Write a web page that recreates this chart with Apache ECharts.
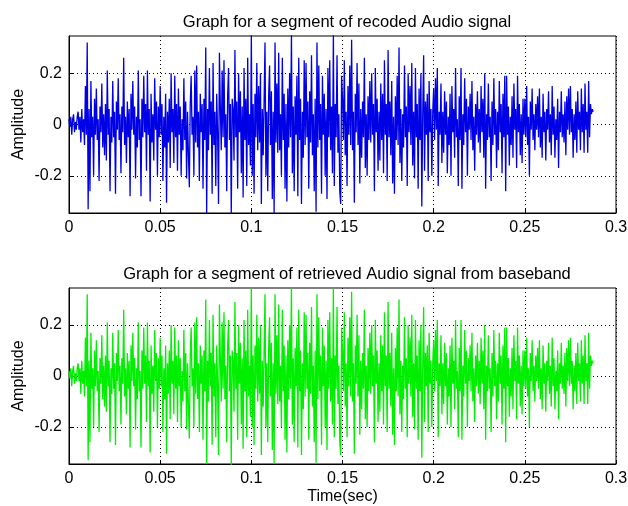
<!DOCTYPE html>
<html>
<head>
<meta charset="utf-8">
<title>Audio signal segment</title>
<script src="https://cdn.jsdelivr.net/npm/echarts@6/dist/echarts.min.js"></script>
<style>
  html, body { margin: 0; padding: 0; background: #fff; }
  #chart { width: 628px; height: 506px; }
</style>
</head>
<body>
<div id="chart"></div>
<script>
// sample spacing of the segment (sec)
const sampleStep = 0.0005;

// recoded audio signal (one row = 5 ms)
const recordedSignal = [
  0.02, -0.01, 0.03, -0.04, 0.02, 0.04, -0.03, 0.01, -0.02, 0.03,
  0.05, -0.02, 0.03, -0.07, 0.06, -0.03, 0.02, -0.08, 0.15, -0.04,
  0.32, -0.33, 0.06, -0.26, 0.17, -0.05, 0.03, -0.2, 0.1, -0.04,
  0.14, -0.06, 0.02, -0.22, 0.07, -0.03, 0.16, -0.09, 0.04, -0.12,
  0.08, -0.14, 0.21, -0.04, 0.06, -0.26, 0.03, -0.07, 0.17, -0.05,
  0.05, -0.27, 0.09, -0.02, 0.18, -0.06, 0.04, -0.19, 0.07, -0.03,
  0.26, -0.08, 0.03, -0.15, 0.09, -0.05, 0.06, -0.28, 0.12, -0.02,
  0.17, -0.04, 0.07, -0.21, 0.03, -0.09, 0.21, -0.06, 0.02, -0.28,
  0.1, -0.05, 0.19, -0.03, 0.08, -0.18, 0.21, -0.04, 0.06, -0.3,
  0.12, -0.07, 0.04, -0.14, 0.18, -0.02, 0.09, -0.2, 0.07, -0.05,
  0.15, -0.04, 0.08, -0.22, 0.03, -0.09, 0.12, -0.305, 0.05, -0.07,
  0.1, -0.17, 0.2, -0.03, 0.06, -0.15, 0.19, -0.05, 0.08, -0.18,
  0.14, -0.04, 0.07, -0.2, 0.02, -0.1, 0.18, -0.06, 0.09, -0.21,
  0.05, -0.12, -0.245, 0.08, 0.19, -0.04, 0.03, -0.2, 0.21, -0.07,
  0.23, -0.09, 0.05, -0.22, 0.12, -0.03, 0.08, -0.25, 0.1, -0.06,
  0.3, -0.345, 0.06, -0.1, 0.22, -0.04, 0.09, -0.27, 0.24, -0.08,
  0.05, -0.24, 0.12, -0.03, -0.31, 0.28, 0.07, -0.1, 0.21, -0.05,
  0.25, -0.09, 0.04, -0.26, 0.11, 0.22, -0.06, 0.08, -0.35, 0.1,
  0.06, -0.14, 0.29, -0.05, 0.09, -0.25, 0.2, -0.03, 0.13, -0.19,
  0.07, -0.285, 0.22, -0.06, 0.1, -0.24, 0.26, -0.08, 0.04, -0.16,
  0.355, -0.2, 0.08, -0.27, 0.12, -0.05, 0.24, -0.1, 0.15, -0.07,
  0.2, -0.31, 0.06, -0.12, 0.09, 0.32, -0.2, 0.05, -0.26, 0.11,
  0.23, -0.08, 0.13, -0.29, 0.05, -0.345, 0.32, -0.07, 0.16, -0.11,
  0.28, -0.1, 0.04, -0.2, 0.26, -0.06, 0.12, -0.25, 0.08, -0.3,
  0.14, -0.09, 0.2, -0.05, 0.355, -0.19, 0.07, -0.26, 0.11, -0.04,
  0.19, -0.28, 0.26, -0.06, 0.1, -0.31, 0.05, -0.13, 0.25, -0.08,
  0.24, -0.05, 0.09, -0.25, 0.13, -0.07, 0.27, -0.12, 0.04, -0.26,
  0.1, -0.34, 0.32, -0.09, 0.23, -0.06, 0.08, -0.27, 0.19, -0.04,
  0.12, -0.2, 0.06, -0.29, 0.22, -0.05, 0.25, -0.1, 0.07, -0.19,
  0.355, -0.24, 0.08, -0.05, 0.27, -0.11, 0.04, -0.26, -0.31, 0.19,
  0.1, -0.06, 0.25, -0.12, 0.05, -0.24, 0.15, -0.04, 0.23, -0.08,
  0.33, -0.1, 0.05, -0.305, 0.12, -0.03, 0.24, -0.08, 0.16, -0.23,
  0.06, -0.13, 0.09, -0.05, 0.26, -0.17, 0.04, -0.2, 0.11, -0.06,
  0.17, -0.07, 0.2, -0.04, 0.08, -0.26, 0.22, -0.03, 0.1, -0.18,
  0.05, -0.14, 0.16, -0.06, 0.12, -0.19, 0.25, -0.04, 0.08, -0.22,
  0.29, -0.05, 0.09, -0.12, 0.17, -0.23, 0.03, -0.27, 0.11, -0.06,
  0.19, -0.08, 0.3, -0.15, 0.06, -0.22, 0.04, -0.09, 0.23, -0.05,
  0.07, -0.24, 0.2, -0.03, 0.15, -0.08, 0.24, -0.16, 0.05, -0.21,
  0.22, -0.05, 0.08, -0.25, 0.14, -0.06, 0.2, -0.32, 0.04, 0.27,
  -0.18, 0.09, -0.04, 0.12, -0.22, 0.17, -0.03, 0.06, -0.2, 0.05,
  0.14, -0.06, 0.18, -0.02, 0.22, -0.24, 0.05, -0.04, 0.16, -0.15,
  0.05, -0.11, 0.13, -0.04, 0.09, -0.19, 0.03, -0.08, 0.12, -0.2,
  0.15, -0.03, 0.06, -0.13, 0.22, -0.05, 0.02, -0.24, 0.11, -0.06,
  0.22, -0.25, 0.04, -0.08, 0.18, -0.03, 0.1, -0.2, 0.07, -0.02,
  0.12, -0.06, 0.17, -0.1, 0.03, -0.18, 0.08, -0.04, 0.13, -0.07,
  0.06, -0.11, 0.15, -0.03, 0.1, -0.13, 0.2, -0.25, 0.04, -0.06,
  0.16, -0.05, 0.03, -0.22, 0.09, -0.08, 0.18, -0.04, 0.06, -0.17,
  0.05, -0.1, 0.17, -0.03, 0.08, -0.19, 0.12, -0.05, 0.19, -0.26,
  0.19, -0.04, 0.07, -0.16, 0.03, -0.08, 0.11, -0.13, 0.16, -0.02,
  0.06, -0.17, 0.19, -0.03, 0.08, -0.12, 0.04, -0.15, 0.1, -0.04,
  0.1, -0.05, 0.15, -0.08, 0.03, -0.2, 0.09, -0.02, 0.14, -0.06,
  0.04, -0.1, 0.08, -0.02, 0.11, -0.05, 0.14, -0.09, 0.03, -0.13,
  0.12, -0.03, 0.05, -0.14, 0.06, -0.02, 0.13, -0.07, 0.04, -0.12,
  0.15, -0.04, 0.07, -0.13, 0.02, -0.06, 0.1, -0.17, 0.05, -0.03,
  0.13, -0.05, 0.04, -0.07, 0.09, -0.12, 0.11, -0.02, 0.14, -0.04,
  0.15, -0.03, 0.06, -0.13, 0.04, -0.06, 0.09, -0.11, 0.13, -0.02,
  0.05, -0.1, 0.14, -0.03, 0.08, -0.11, 0.16, -0.02, 0.05, -0.11,
  0.17, -0.05, 0.08, 0.04, 0.06, 0.05
];

// retrieved signal from baseband (lower plot) follows the recoded one
const retrievedSignal = recordedSignal.slice();

const amplitudeTicks = [-0.2, 0, 0.2];
const amplitudeLimit = 0.345;

const titles = [
  'Graph for a segment of recoded Audio signal',
  'Graph for a segment of retrieved Audio signal from baseband',
];

const font = 'Liberation Sans, Arial, sans-serif';

const toPoints = (values) => values.map((v, i) => [i * sampleStep, v]);

const gridLine = {
  show: true,
  lineStyle: { color: '#000', type: [1, 3], width: 1 },
};

const makeXAxis = (gridIndex, name) => ({
  type: 'value',
  gridIndex,
  min: 0,
  max: 0.3,
  interval: 0.05,
  name,
  nameLocation: 'middle',
  nameGap: 25,
  nameMoveOverlap: false,
  nameTextStyle: { color: '#000', fontSize: 16, fontFamily: font },
  axisLine: { show: true, onZero: false, lineStyle: { color: '#000' } },
  axisTick: { show: true, inside: true, length: 4, lineStyle: { color: '#000' } },
  axisLabel: { color: '#000', fontSize: 16, fontFamily: font, margin: 7 },
  splitLine: gridLine,
});

const makeYAxis = (gridIndex) => ({
  type: 'value',
  gridIndex,
  min: -amplitudeLimit,
  max: amplitudeLimit,
  name: 'Amplitude',
  nameLocation: 'middle',
  nameGap: 42,
  nameMoveOverlap: false,
  nameTextStyle: { color: '#000', fontSize: 16, fontFamily: font },
  axisLine: { show: true, lineStyle: { color: '#000' } },
  axisTick: { show: true, inside: true, length: 4, customValues: amplitudeTicks, lineStyle: { color: '#000' } },
  axisLabel: { color: '#000', fontSize: 16, fontFamily: font, margin: 7, customValues: amplitudeTicks },
  splitLine: gridLine,
});

const chart = echarts.init(document.getElementById('chart'), null, { renderer: 'canvas' });

const option = {
  backgroundColor: '#fff',
  animation: false,
  title: [
    {
      text: titles[0],
      left: 342,
      top: 9,
      textAlign: 'center',
      textStyle: { color: '#000', fontSize: 16.5, fontWeight: 'normal', fontFamily: font },
    },
    {
      text: titles[1],
      left: 342,
      top: 261,
      textAlign: 'center',
      textStyle: { color: '#000', fontSize: 16.5, fontWeight: 'normal', fontFamily: font },
    },
  ],
  grid: [
    { left: 69, right: 12, top: 36, height: 177, outerBoundsMode: 'none', show: true, borderColor: '#000', borderWidth: 1, backgroundColor: '#fff' },
    { left: 69, right: 12, top: 288, height: 176, outerBoundsMode: 'none', show: true, borderColor: '#000', borderWidth: 1, backgroundColor: '#fff' },
  ],
  xAxis: [makeXAxis(0, ''), makeXAxis(1, 'Time(sec)')],
  yAxis: [makeYAxis(0), makeYAxis(1)],
  series: [
    {
      type: 'line',
      xAxisIndex: 0,
      yAxisIndex: 0,
      data: toPoints(recordedSignal),
      showSymbol: false,
      lineStyle: { color: '#0000e6', width: 1.3 },
      clip: true,
    },
    {
      type: 'line',
      xAxisIndex: 1,
      yAxisIndex: 1,
      data: toPoints(retrievedSignal),
      showSymbol: false,
      lineStyle: { color: '#00ee00', width: 1.3 },
      clip: true,
    },
  ],
};

chart.setOption(option);
</script>
</body>
</html>
